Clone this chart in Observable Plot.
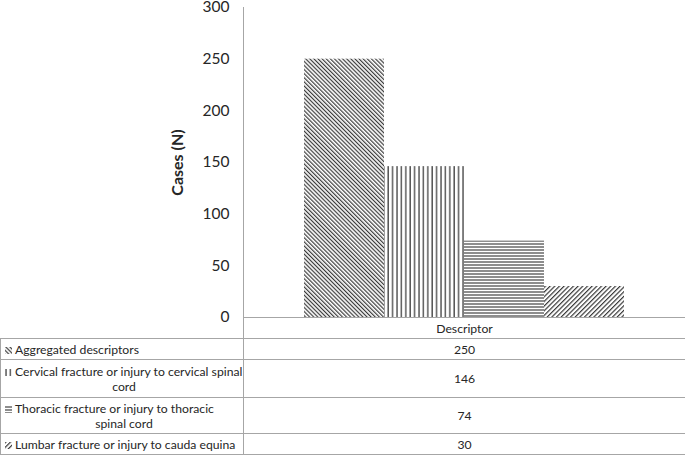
<!DOCTYPE html>
<html><head><meta charset="utf-8">
<script src="https://cdn.jsdelivr.net/npm/d3@7"></script>
<script src="https://cdn.jsdelivr.net/npm/@observablehq/plot@0.6"></script>
<style>
body{margin:0;background:#fff;font-family:Lato, sans-serif;}
#wrap{position:relative;width:685px;height:455px;overflow:hidden;}
#chart svg{display:block;overflow:visible;}
#defs{position:absolute;width:0;height:0;}
table{position:absolute;left:0;top:317px;border-collapse:collapse;width:685px;table-layout:fixed;font-size:12.2px;color:#262626;}
td{border:1px solid #a6a6a6;text-align:center;padding:0;line-height:15px;white-space:nowrap;}
td.blank{border:none;}
td.lab{padding:0 0 0 4px;}
.l0{text-align:left;}
.ln{text-align:center;}
.sw{display:inline-block;vertical-align:0px;margin-right:3px;}
</style></head><body>
<svg id="defs" aria-hidden="true">
  <defs>
    <pattern id="p-back" patternUnits="userSpaceOnUse" width="2.9" height="2.9" patternTransform="rotate(-45)">
      <line x1="0.6" y1="-1" x2="0.6" y2="4" stroke="#3a3a3a" stroke-width="1.2"/>
    </pattern>
    <pattern id="p-vert" patternUnits="userSpaceOnUse" width="4.4" height="10">
      <line x1="1" y1="-1" x2="1" y2="11" stroke="#404040" stroke-width="1.3"/>
    </pattern>
    <pattern id="p-horiz" patternUnits="userSpaceOnUse" width="10" height="3">
      <line x1="-1" y1="1" x2="11" y2="1" stroke="#404040" stroke-width="1.2"/>
    </pattern>
    <pattern id="p-fwd" patternUnits="userSpaceOnUse" width="3.3" height="3.3" patternTransform="rotate(45)">
      <line x1="0.6" y1="-1" x2="0.6" y2="4.3" stroke="#3a3a3a" stroke-width="1.2"/>
    </pattern>
  </defs>
</svg>
<div id="wrap"><div id="chart"></div><table id="tbl"></table></div>
<script>
const categories = ["Descriptor"];
// series names, split where the reference table wraps them
const seriesLines = [
  ["Aggregated descriptors"],
  ["Cervical fracture or injury to cervical spinal", "cord"],
  ["Thoracic fracture or injury to thoracic", "spinal cord"],
  ["Lumbar fracture or injury to cauda equina"]
];
const series = seriesLines.map(l => l.join(" "));
const values = [250, 146, 74, 30];
const yTicks = [0, 50, 100, 150, 200, 250, 300];
const yLabel = "Cases (N)";
const patternIds = ["p-back", "p-vert", "p-horiz", "p-fwd"];

const data = series.map((s, i) => ({series: s, value: values[i], fill: `url(#${patternIds[i]})`}));

const plot = Plot.plot({
  width: 685, height: 317,
  marginLeft: 243, marginRight: 0, marginTop: 7, marginBottom: 0,
  style: {fontFamily: "Lato, sans-serif", fontSize: "15.5px", color: "#262626", background: "transparent", overflow: "visible"},
  x: {domain: series, paddingInner: 0, paddingOuter: 0.754, axis: null},
  y: {domain: [0, 300], ticks: yTicks, tickSize: 0, tickPadding: 14, tickFormat: d => String(d),
      label: yLabel, labelAnchor: "center", labelOffset: 72, labelArrow: "none"},
  color: {type: "identity"},
  marks: [
    Plot.frame({anchor: "left", stroke: "#a6a6a6"}),
    Plot.barY(data, {x: "series", y: "value", fill: "fill"})
  ]
});
document.getElementById("chart").appendChild(plot);
d3.select(plot).selectAll('[aria-label="y-axis label"] text')
  .attr("font-weight", "bold").attr("font-size", "16px")
  .text(yLabel);

// data table
const tbl = d3.select("#tbl");
const cg = tbl.append("colgroup");
cg.append("col").style("width", "243px");
cg.append("col").style("width", "442px");
const rowHeights = [21, 21, 38, 36, 21];
const head = tbl.append("tr").style("height", rowHeights[0] + "px");
head.append("td").attr("class", "blank");
head.append("td").text(categories[0]);
seriesLines.forEach((lines, i) => {
  const tr = tbl.append("tr").style("height", rowHeights[i + 1] + "px");
  const c = tr.append("td").attr("class", "lab");
  lines.forEach((line, j) => {
    const div = c.append("div").attr("class", j === 0 ? "l0" : "ln");
    if (j === 0) {
      div.append("svg").attr("class", "sw").attr("width", 7).attr("height", 7)
        .append("rect").attr("width", 7).attr("height", 7).attr("fill", `url(#${patternIds[i]})`);
    }
    div.append("span").text(line);
  });
  tr.append("td").text(values[i]);
});
</script>
</body></html>
